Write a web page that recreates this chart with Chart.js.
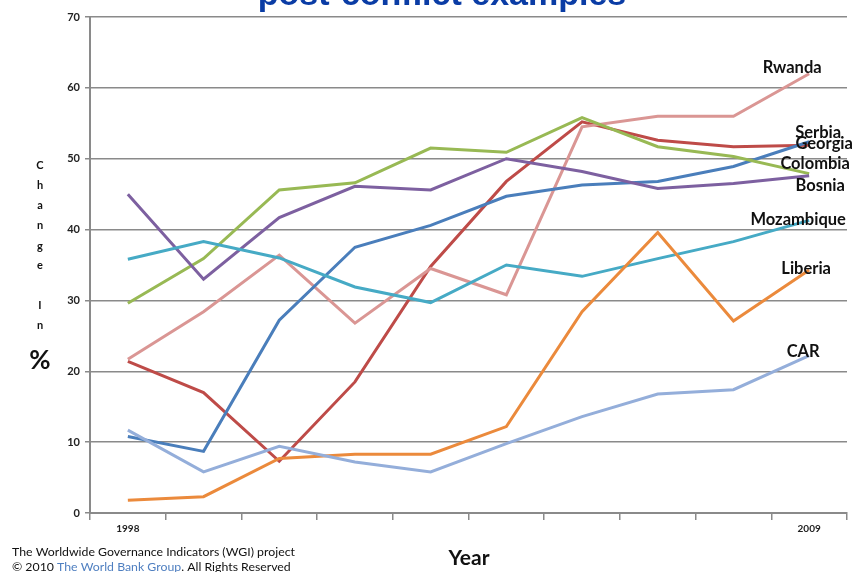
<!DOCTYPE html>
<html>
<head>
<meta charset="utf-8">
<script src="https://cdn.jsdelivr.net/npm/chart.js@4/dist/chart.umd.min.js"></script>
<style>
  html, body { margin: 0; padding: 0; background: #fff; }
  #wrap { width: 853px; height: 572px; }
</style>
</head>
<body>
<div id="wrap"><canvas id="wgiChart" width="853" height="572"></canvas></div>
<script>
// years of the WGI surveys (biennial until 2002)
const years = ['1998', '2000', '2002', '2003', '2004', '2005', '2006', '2007', '2008', '2009'];
const shownYears = ['1998', '2009'];

const countries = ['Rwanda', 'Serbia', 'Georgia', 'Colombia', 'Bosnia', 'Mozambique', 'Liberia', 'CAR'];

const rwanda     = [21.7, 28.4, 36.4, 26.8, 34.5, 30.8, 54.5, 56.0, 56.0, 62.0];
const serbia     = [21.4, 17.0, 7.3, 18.5, 34.8, 46.8, 55.2, 52.6, 51.7, 51.9];
const georgia    = [10.8, 8.7, 27.2, 37.5, 40.6, 44.7, 46.3, 46.8, 48.9, 52.4];
const colombia   = [29.6, 35.9, 45.6, 46.6, 51.5, 50.9, 55.8, 51.7, 50.3, 47.9];
const bosnia     = [45.0, 33.0, 41.7, 46.1, 45.6, 50.0, 48.2, 45.8, 46.5, 47.6];
const mozambique = [35.8, 38.3, 36.0, 31.9, 29.7, 35.0, 33.4, 35.9, 38.3, 41.3];
const liberia    = [1.8, 2.3, 7.7, 8.3, 8.3, 12.2, 28.4, 39.6, 27.1, 34.3];
const car        = [11.7, 5.8, 9.4, 7.2, 5.8, 9.8, 13.6, 16.8, 17.4, 22.2];

const yTicks = [0, 10, 20, 30, 40, 50, 60, 70];

// styling kept apart from the data
const lineColors = ['#DA9694', '#BE4B48', '#4A7EBB', '#98B954', '#7D60A0', '#46AAC5', '#EB8A3C', '#94AEDA'];
// where the end label sits relative to the last point [dx, dy]
const labelShift = [[-17, -6], [9, -13], [15, 2], [6, -10], [11, 10], [-11, -1], [-3, -1], [-6, -4]];

const series = [rwanda, serbia, georgia, colombia, bosnia, mozambique, liberia, car];
const drawOrder = [7, 6, 5, 4, 3, 2, 0, 1];

const gridGrey = '#8A8A8A';
const textFont = 'Lato, "Open Sans", "DejaVu Sans", sans-serif';

const endLabels = {
    id: 'endLabels',
    afterDatasetsDraw(chart) {
        const ctx = chart.ctx;
        ctx.save();
        ctx.font = 'bold 16.5px ' + textFont;
        ctx.fillStyle = '#111';
        ctx.textAlign = 'center';
        ctx.textBaseline = 'middle';
        chart.data.datasets.forEach((ds, i) => {
            const meta = chart.getDatasetMeta(i);
            const last = meta.data[meta.data.length - 1];
            const k = ds.countryIndex;
            ctx.fillText(ds.label, last.x + labelShift[k][0], last.y + labelShift[k][1]);
        });
        ctx.restore();
    }
};

const decorations = {
    id: 'decorations',
    afterDraw(chart) {
        const ctx = chart.ctx;
        ctx.save();
        // title, cut off at the top like in the slide
        ctx.fillStyle = '#0A3CA5';
        ctx.font = 'bold 34px "Liberation Sans", Arial, sans-serif';
        ctx.textAlign = 'center';
        ctx.textBaseline = 'alphabetic';
        ctx.fillText('post-conflict examples', 442, 5);

        // stacked y axis title
        ctx.fillStyle = '#111';
        ctx.font = 'bold 11px ' + textFont;
        ctx.textBaseline = 'middle';
        const letters = [['C', 165], ['h', 185], ['a', 205], ['n', 225], ['g', 246], ['e', 265], ['I', 305], ['n', 325]];
        letters.forEach(l => ctx.fillText(l[0], 40, l[1]));
        ctx.font = 'bold 26px ' + textFont;
        ctx.fillText('%', 40, 361);

        // x axis title
        ctx.font = 'bold 21px ' + textFont;
        ctx.fillText('Year', 469, 558);

        // source note
        ctx.textAlign = 'left';
        ctx.font = '12.3px ' + textFont;
        ctx.fillStyle = '#111';
        ctx.fillText('The Worldwide Governance Indicators (WGI) project', 12, 552, 284);
        let x = 12;
        const parts = [['\u00A9 2010 ', '#111'], ['The World Bank Group', '#4F7FC0'], ['. All Rights Reserved', '#111']];
        parts.forEach(p => {
            ctx.fillStyle = p[1];
            ctx.fillText(p[0], x, 567);
            x += ctx.measureText(p[0]).width;
        });
        ctx.restore();
    }
};

new Chart(document.getElementById('wgiChart'), {
    type: 'line',
    data: {
        labels: years,
        datasets: drawOrder.map(k => ({
            label: countries[k],
            countryIndex: k,
            data: series[k],
            borderColor: lineColors[k],
            backgroundColor: lineColors[k],
            borderWidth: 3,
            pointRadius: 0,
            tension: 0,
            fill: false
        }))
    },
    options: {
        responsive: false,
        animation: false,
        layout: { padding: { left: 0, top: 17, right: 6, bottom: 0 } },
        plugins: {
            legend: { display: false },
            tooltip: { enabled: false }
        },
        scales: {
            x: {
                type: 'category',
                offset: true,
                grid: {
                    offset: true,
                    drawOnChartArea: false,
                    color: gridGrey,
                    lineWidth: 1.5,
                    tickLength: 7
                },
                border: { color: gridGrey, width: 2 },
                ticks: {
                    autoSkip: false,
                    maxRotation: 0,
                    padding: 3,
                    color: '#222',
                    font: { family: textFont, size: 10, weight: 'bold' },
                    callback: function (v, i) {
                        const lab = this.getLabelForValue(v);
                        return shownYears.includes(lab) ? lab : '';
                    }
                },
                afterFit: s => { s.height = 59; }
            },
            y: {
                min: yTicks[0],
                max: yTicks[yTicks.length - 1],
                afterBuildTicks: s => { s.ticks = yTicks.map(v => ({ value: v })); },
                grid: {
                    color: gridGrey,
                    lineWidth: 1.5,
                    tickLength: 5
                },
                border: { color: gridGrey, width: 2 },
                ticks: {
                    padding: 5,
                    color: '#222',
                    font: { family: textFont, size: 11, weight: 'bold' }
                },
                afterFit: s => { s.width = 90; }
            }
        }
    },
    plugins: [endLabels, decorations]
});
</script>
</body>
</html>
